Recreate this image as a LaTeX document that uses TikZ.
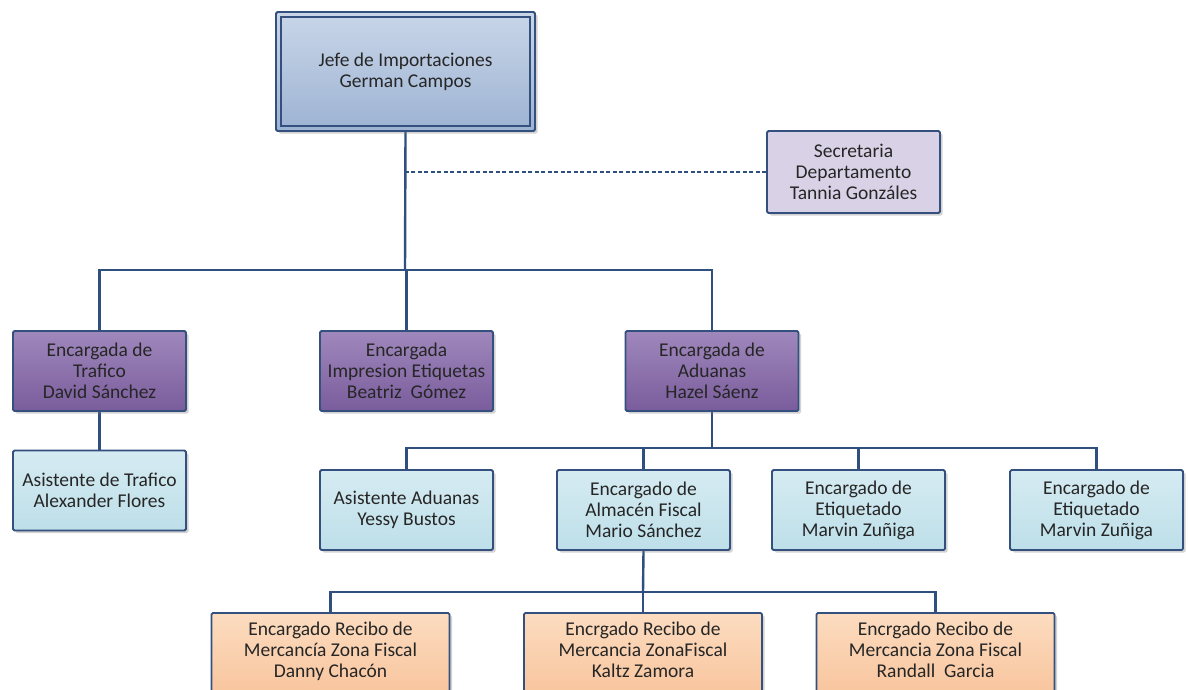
\documentclass[tikz,border=0pt]{standalone}
\usepackage{fontspec}
\setmainfont{Carlito}
\usetikzlibrary{shadows,backgrounds}
\definecolor{edgeblue}{HTML}{2F4F7F}
\definecolor{boxline}{HTML}{34507F}
\definecolor{headtop}{HTML}{C9D6E8}
\definecolor{headbot}{HTML}{9DB3D3}
\definecolor{secfill}{HTML}{D9D1E5}
\definecolor{leadtop}{HTML}{9F88BC}
\definecolor{leadbot}{HTML}{7A5C9C}
\definecolor{stafftop}{HTML}{D6EBF2}
\definecolor{staffbot}{HTML}{BDDFE9}
\definecolor{rectop}{HTML}{FCDCC0}
\definecolor{recbot}{HTML}{F8C49C}
\tikzset{
  box/.style={draw=boxline, line width=1.8pt, rounded corners=1.5pt, align=center,
    inner sep=0pt, font=\fontsize{19.5}{21}\selectfont, text=black!85,
    drop shadow={opacity=0.35, shadow xshift=2.5pt, shadow yshift=-2.5pt}},
  headbox/.style={box, minimum width=259pt, minimum height=119pt,
    top color=headtop, bottom color=headbot},
  secbox/.style={box, minimum width=173pt, minimum height=82pt, fill=secfill},
  leadbox/.style={box, minimum width=173pt, minimum height=80pt,
    top color=leadtop, bottom color=leadbot},
  staffbox/.style={box, minimum width=173pt, minimum height=80pt,
    top color=stafftop, bottom color=staffbot},
  recbox/.style={box, minimum width=238pt, minimum height=84pt,
    top color=rectop, bottom color=recbot},
  link/.style={draw=edgeblue, line width=2.4pt},
}
\begin{document}
\begin{tikzpicture}[x=1pt, y=-1pt]
\useasboundingbox (0,0) rectangle (1188,689);
\begin{scope}
\clip (0,0) rectangle (1188,689);

\coordinate (bus1) at (405,270);
\coordinate (bus2) at (712,448);
\coordinate (bus3) at (643,592);

% top of the chart
\node[headbox] (jefe) at (405.5,71.5) {Jefe de Importaciones\\German Campos};
\draw[boxline, line width=1.6pt] ([shift={(6pt,-6pt)}]jefe.north west) rectangle ([shift={(-6pt,6pt)}]jefe.south east);
\node[secbox] (sec) at (853.5,172) {Secretaria\\Departamento\\Tannia Gonzáles};

% heads of section
\node[leadbox] (traf) at (99.5,371) {Encargada de\\Trafico\\David Sánchez};
\node[leadbox] (imp) at (406.5,371) {Encargada\\Impresion Etiquetas\\Beatriz\ \ Gómez};
\node[leadbox] (adu) at (712,371) {Encargada de\\Aduanas\\Hazel Sáenz};

% assistants and officers
\node[staffbox] (asist) at (99.5,490.5) {Asistente de Trafico\\Alexander Flores};
\node[staffbox] (asad) at (406.5,510) {Asistente Aduanas\\Yessy Bustos};
\node[staffbox] (alm) at (643.5,510) {Encargado de\\Almacén Fiscal\\Mario Sánchez};
\node[staffbox] (eti1) at (858.5,510) {Encargado de\\Etiquetado\\Marvin Zuñiga};
\node[staffbox] (eti2) at (1096.5,510) {Encargado de\\Etiquetado\\Marvin Zuñiga};

% fiscal zone receiving
\node[recbox, anchor=north] (rec1) at (330.5,612) {\rule{0pt}{19pt}Encargado Recibo de\\Mercancía Zona Fiscal\\Danny Chacón\rule[-16pt]{0pt}{0pt}};
\node[recbox, anchor=north] (rec2) at (643,612) {\rule{0pt}{19pt}Encrgado Recibo de\\Mercancia ZonaFiscal\\Kaltz Zamora\rule[-16pt]{0pt}{0pt}};
\node[recbox, anchor=north] (rec3) at (935.5,612) {\rule{0pt}{19pt}Encrgado Recibo de\\Mercancia Zona Fiscal\\Randall\ \ Garcia\rule[-16pt]{0pt}{0pt}};
\end{scope}

% reporting lines, kept under the boxes
\begin{pgfonlayer}{background}
\fill[white] (0,0) rectangle (1188,689);
\draw[link, dash pattern=on 4pt off 2.5pt, line width=2pt] (sec.west) -- (sec.west -| jefe.south);
\draw[link] (jefe.south) -- (bus1);
\draw[link] (traf.north) |- (bus1) -| (adu.north);
\draw[link] (imp.north) -- (imp.north |- bus1);
\draw[link] (traf.south) -- (asist.north);
\draw[link] (adu.south) -- (bus2);
\draw[link] (asad.north) |- (bus2) -| (eti2.north);
\draw[link] (alm.north) -- (alm.north |- bus2);
\draw[link] (eti1.north) -- (eti1.north |- bus2);
\draw[link] (alm.south) -- (bus3);
\draw[link] (rec1.north) |- (bus3) -| (rec3.north);
\draw[link] (rec2.north) -- (rec2.north |- bus3);
\end{pgfonlayer}
\end{tikzpicture}
\end{document}
